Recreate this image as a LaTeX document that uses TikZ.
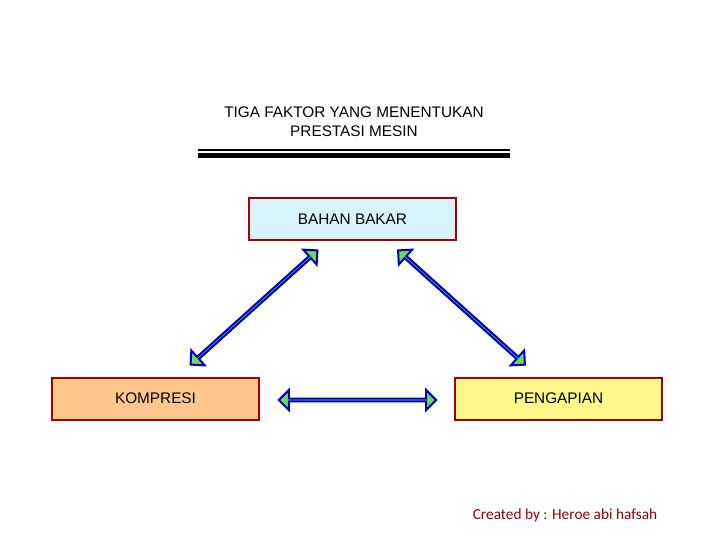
\documentclass[tikz,border=0pt]{standalone}
\usepackage{fontspec}
\setmainfont{Liberation Sans}
\newfontfamily\carl{Carlito}
\usetikzlibrary{shapes.arrows}
\begin{document}
\begin{tikzpicture}[x=0.75pt,y=-0.75pt,
 box/.style={draw=red!65!black,line width=1.5pt,minimum width=155pt,minimum height=31.5pt,inner sep=0pt,font=\fontsize{11.5pt}{13pt}\selectfont},
 darr/.style={double arrow,draw=blue!80!black,fill=green!60!olive!70,line width=1.5pt,double arrow head extend=4.5pt,double arrow tip angle=90,minimum height=#1,minimum width=15pt,inner sep=0pt}]
\useasboundingbox (0,0) rectangle (720,540);
\node[align=center,font=\fontsize{11.5pt}{14pt}\selectfont] (title) at (354,122) {TIGA FAKTOR YANG MENENTUKAN\\PRESTASI MESIN};
\fill (198,149) rectangle (510,151);
\fill (198,153) rectangle (510,157.5);
\node[box,fill=cyan!15] (bb) at (352.5,219) {BAHAN BAKAR};
\node[box,fill=orange!45] (ko) at (155.5,398.5) {KOMPRESI};
\node[box,fill=yellow!45] (pe) at (558.5,398.5) {PENGAPIAN};
\node[darr=128pt,rotate=42] (a1) at (254,307.5) {};
\node[darr=128pt,rotate=-42] (a2) at (461.5,307.5) {};
\node[darr=118pt] (a3) at (357.5,400) {};
\node[font=\carl\fontsize{11.5pt}{13pt}\selectfont,text=red!60!black] (cr) at (565,515) {Created by : Heroe abi hafsah};
\end{tikzpicture}
\end{document}
